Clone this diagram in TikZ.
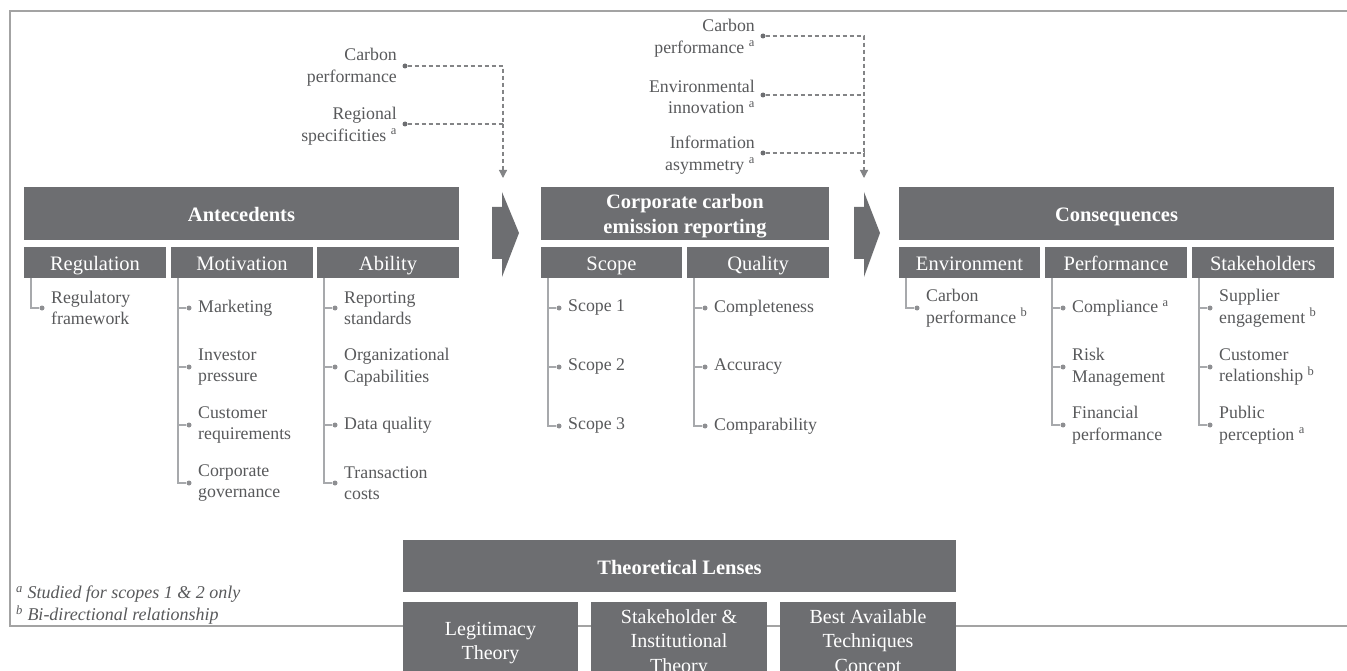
\documentclass[tikz,border=0pt]{standalone}
\usepackage{fontspec}
\setmainfont{Liberation Serif}
\usetikzlibrary{arrows.meta}
\definecolor{boxgray}{HTML}{6D6E71}
\definecolor{itemgray}{HTML}{58595B}
\definecolor{treegray}{HTML}{A7A9AC}
\definecolor{dotgray}{HTML}{8E8F92}
\definecolor{framegray}{HTML}{A3A3A3}
\newcommand\supA{~\textsuperscript{a}}
\newcommand\supB{~\textsuperscript{b}}
\begin{document}
\begin{tikzpicture}[x=1pt,y=-1pt,
 hdr/.style={fill=boxgray,text=white,inner sep=0,align=center,text height=21pt,text depth=4pt,font=\fontsize{20.5}{24}\selectfont\bfseries},
 hdrbox/.style={fill=boxgray,inner sep=0},
 hdrtext/.style={text=white,inner sep=0,align=center,font=\fontsize{20.5}{24.5}\selectfont\bfseries},
 sub/.style={fill=boxgray,text=white,inner sep=0,minimum height=31pt,text height=19pt,text depth=4pt,font=\fontsize{20.5}{24}\selectfont},
 lenstext/.style={text=white,inner sep=0,align=center,font=\fontsize{20}{24.5}\selectfont},
 item/.style={anchor=west,inner sep=0,align=left,text=itemgray,font=\fontsize{17.8}{21.5}\selectfont},
 toplbl/.style={anchor=east,inner sep=0,align=right,text=itemgray,font=\fontsize{17.8}{21.5}\selectfont},
 bullet/.style={circle,fill=dotgray,inner sep=0,minimum size=5pt},
 darkbullet/.style={circle,fill=boxgray,inner sep=0,minimum size=5pt},
 tree/.style={draw=treegray,line width=1.2pt},
 dashconn/.style={draw=boxgray!85,line width=1.2pt,dash pattern=on 4pt off 3pt},
 chevron/.style={fill=boxgray},
 note/.style={anchor=west,inner sep=0,text=itemgray,font=\fontsize{18}{21}\selectfont\itshape}
]
\useasboundingbox (0,0) rectangle (1347,671);
\clip (0,0) rectangle (1347,671);

% frame
\draw[draw=framegray,line width=1.4pt] (1347,11) -- (10,11) -- (10,626) -- (1347,626);

% ---------- Antecedents ----------
\node[hdr,minimum width=435pt,minimum height=53pt] (ante) at (241.5,213.5) {Antecedents};
\node[sub,minimum width=142pt] (reg) at (95,262.5) {Regulation};
\node[sub,minimum width=142pt] (mot) at (242,262.5) {Motivation};
\node[sub,minimum width=142pt] (abi) at (388,262.5) {Ability};

\coordinate (regL) at (31,278);
\node[bullet] (rd1) at (42,308) {};
\node[item] (ri1) at (51,308) {Regulatory\\framework};
\draw[tree] (regL) |- (rd1);

\coordinate (motL) at (178,278);
\node[bullet] (md1) at (189,308) {};
\node[bullet] (md2) at (189,367) {};
\node[bullet] (md3) at (189,425) {};
\node[bullet] (md4) at (189,483) {};
\node[item] (mi1) at (198,308) {Marketing};
\node[item] (mi2) at (198,367) {Investor\\pressure};
\node[item] (mi3) at (198,425) {Customer\\requirements};
\node[item] (mi4) at (198,483) {Corporate\\governance};
\draw[tree] (motL) |- (md4);
\draw[tree] (motL |- md1) -- (md1);
\draw[tree] (motL |- md2) -- (md2);
\draw[tree] (motL |- md3) -- (md3);

\coordinate (abiL) at (324,278);
\node[bullet] (ad1) at (335,308) {};
\node[bullet] (ad2) at (335,367) {};
\node[bullet] (ad3) at (335,425) {};
\node[bullet] (ad4) at (335,483) {};
\node[item] (ai1) at (344,308) {Reporting\\standards};
\node[item] (ai2) at (344,367) {Organizational\\Capabilities};
\node[item] (ai3) at (344,425) {Data quality};
\node[item] (ai4) at (344,483) {Transaction\\costs};
\draw[tree] (abiL) |- (ad4);
\draw[tree] (abiL |- ad1) -- (ad1);
\draw[tree] (abiL |- ad2) -- (ad2);
\draw[tree] (abiL |- ad3) -- (ad3);

% ---------- Corporate carbon emission reporting ----------
\node[hdrbox,minimum width=288pt,minimum height=53pt] (ccer) at (685,213.5) {};
\node[hdrtext] (ccerT) at (685,216) {Corporate carbon\\emission reporting};
\node[sub,minimum width=141pt] (scp) at (611.5,262.5) {Scope};
\node[sub,minimum width=142pt] (qua) at (758,262.5) {Quality};

\coordinate (scpL) at (548,278);
\node[bullet] (sd1) at (559,308) {};
\node[bullet] (sd2) at (559,367) {};
\node[bullet] (sd3) at (559,426) {};
\node[item] (si1) at (568,308) {Scope 1};
\node[item] (si2) at (568,367) {Scope 2};
\node[item] (si3) at (568,426) {Scope 3};
\draw[tree] (scpL) |- (sd3);
\draw[tree] (scpL |- sd1) -- (sd1);
\draw[tree] (scpL |- sd2) -- (sd2);

\coordinate (quaL) at (694,278);
\node[bullet] (qd1) at (705,308) {};
\node[bullet] (qd2) at (705,367) {};
\node[bullet] (qd3) at (705,426) {};
\node[item] (qi1) at (714,308) {Completeness};
\node[item] (qi2) at (714,367) {Accuracy};
\node[item] (qi3) at (714,426) {Comparability};
\draw[tree] (quaL) |- (qd3);
\draw[tree] (quaL |- qd1) -- (qd1);
\draw[tree] (quaL |- qd2) -- (qd2);

% ---------- Consequences ----------
\node[hdr,minimum width=435pt,minimum height=53pt] (cons) at (1116.5,213.5) {Consequences};
\node[sub,minimum width=141pt] (env) at (969.5,262.5) {Environment};
\node[sub,minimum width=142pt] (perf) at (1116,262.5) {Performance};
\node[sub,minimum width=142pt] (stk) at (1263,262.5) {Stakeholders};

\coordinate (envL) at (906,278);
\node[bullet] (ed1) at (917,308) {};
\node[item] (ei1) at (926,308) {Carbon\\performance\supB};
\draw[tree] (envL) |- (ed1);

\coordinate (perfL) at (1052,278);
\node[bullet] (pd1) at (1063,308) {};
\node[bullet] (pd2) at (1063,367) {};
\node[bullet] (pd3) at (1063,425) {};
\node[item] (pi1) at (1072,308) {Compliance\supA};
\node[item] (pi2) at (1072,367) {Risk\\Management};
\node[item] (pi3) at (1072,425) {Financial\\performance};
\draw[tree] (perfL) |- (pd3);
\draw[tree] (perfL |- pd1) -- (pd1);
\draw[tree] (perfL |- pd2) -- (pd2);

\coordinate (stkL) at (1199,278);
\node[bullet] (kd1) at (1210,308) {};
\node[bullet] (kd2) at (1210,367) {};
\node[bullet] (kd3) at (1210,425) {};
\node[item] (ki1) at (1219,308) {Supplier\\engagement\supB};
\node[item] (ki2) at (1219,367) {Customer\\relationship\supB};
\node[item] (ki3) at (1219,425) {Public\\perception\supA};
\draw[tree] (stkL) |- (kd3);
\draw[tree] (stkL |- kd1) -- (kd1);
\draw[tree] (stkL |- kd2) -- (kd2);

% ---------- big chevrons ----------
\fill[chevron] (492,207) -- (502,207) -- (502,192) -- (519,233) -- (502,277) -- (502,259) -- (492,259) -- cycle;
\fill[chevron] (854,207) -- (864,207) -- (864,192) -- (880,233) -- (864,277) -- (864,259) -- (854,259) -- cycle;

% ---------- moderators (left) ----------
\node[toplbl] (lcp) at (397,67) {Carbon\\performance};
\node[toplbl] (lrs) at (397,126) {Regional\\specificities\supA};
\node[darkbullet] (lcpd) at (405,66) {};
\node[darkbullet] (lrsd) at (405,124) {};
\coordinate (lj1) at (503,66);
\coordinate (lj2) at (503,124);
\coordinate (lend) at (503,178);
\draw[dashconn] (lcpd) -- (lj1) -- (lj2);
\draw[dashconn] (lrsd) -- (lj2);
\draw[dashconn,-{Triangle[length=8pt,width=8pt]}] (lj2) -- (lend);

% ---------- moderators (right) ----------
\node[toplbl] (rcp) at (755,38) {Carbon\\performance\supA};
\node[toplbl] (rei) at (755,97) {Environmental\\innovation\supA};
\node[toplbl] (ria) at (755,155) {Information\\asymmetry\supA};
\node[darkbullet] (rcpd) at (763,36) {};
\node[darkbullet] (reid) at (763,95) {};
\node[darkbullet] (riad) at (763,153) {};
\coordinate (rj1) at (864,36);
\coordinate (rj2) at (864,95);
\coordinate (rj3) at (864,153);
\coordinate (rend) at (864,178);
\draw[dashconn] (rcpd) -- (rj1) -- (rj3);
\draw[dashconn] (reid) -- (rj2);
\draw[dashconn] (riad) -- (rj3);
\draw[dashconn,-{Triangle[length=8pt,width=8pt]}] (rj3) -- (rend);

% ---------- Theoretical Lenses ----------
\node[hdr,minimum width=553pt,minimum height=52pt] (theo) at (679.5,566) {Theoretical Lenses};
\node[hdrbox,minimum width=175pt,minimum height=76pt] (legit) at (490.5,640) {};
\node[hdrbox,minimum width=176pt,minimum height=76pt] (stakeinst) at (679,640) {};
\node[hdrbox,minimum width=176pt,minimum height=76pt] (bat) at (868,640) {};
\node[lenstext] (legitT) at (490.5,643) {Legitimacy\\Theory};
\node[lenstext] (stakeinstT) at (679,643) {Stakeholder \&\\Institutional\\Theory};
\node[lenstext] (batT) at (868,643) {Best Available\\Techniques\\Concept};

% ---------- footnotes ----------
\node[note] (fa) at (16,594) {\textsuperscript{a} Studied for scopes 1 \& 2 only};
\node[note] (fb) at (16,615) {\textsuperscript{b} Bi-directional relationship};
\end{tikzpicture}
\end{document}
